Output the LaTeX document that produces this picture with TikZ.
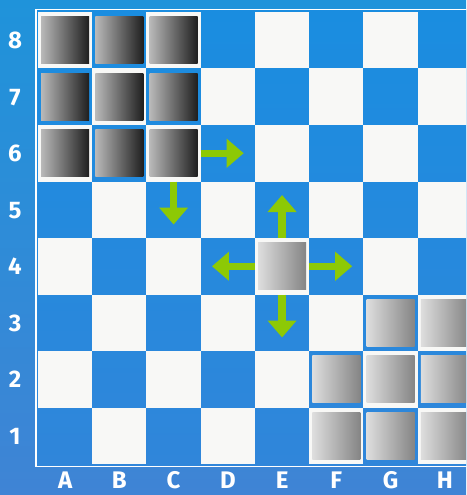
\documentclass[tikz,border=0pt]{standalone}
\usepackage{fontspec}
\setmainfont{Fira Sans}
\usetikzlibrary{arrows.meta,positioning,calc}
\definecolor{bgtop}{HTML}{1F93DA}
\definecolor{bgbot}{HTML}{3F84D5}
\definecolor{sqbluetop}{HTML}{1A8DE0}
\definecolor{sqbluebot}{HTML}{3086DA}
\definecolor{sqwhite}{HTML}{F8F8F6}
\definecolor{movegreen}{HTML}{8DC905}

\begin{document}
\begin{tikzpicture}[
  x=1pt, y=-1pt,
  lbl/.style={text=white, inner sep=0pt, anchor=base, font=\fontsize{24}{24}\selectfont\bfseries},
  piece/.style={draw=none, inner sep=0pt, minimum width=48pt, minimum height=47pt, outer xsep=3.12pt, outer ysep=4.75pt},
  dark/.style={piece, left color=gray!55!white, right color=black!88},
  light/.style={piece, left color=black!13, right color=black!48},
  move/.style={color=movegreen, line width=7.5pt, -{Triangle[length=17pt 0, width=28pt 0]}}
]
\useasboundingbox (0,0) rectangle (466,495);
\clip (0,0) rectangle (466,495);
\shade[top color=bgtop, bottom color=bgbot] (0,0) rectangle (466,495);
\draw[white, line width=1.5pt] (36,10) rectangle (480,466);
\shade[top color=sqbluetop, bottom color=sqbluebot] (37,11) rectangle (474,465);
\foreach \c [count=\i from 0] in {a,b,c,d,e,f,g,h}
  \foreach \r in {1,...,8}{
    \coordinate (\c\r) at ({65.12+54.24*\i},{492.25-56.5*\r});
    \pgfmathparse{int(mod(\i+\r,2))}
    \ifnum\pgfmathresult=0
      \fill[sqwhite] ({38+54.24*\i},{464-56.5*\r}) rectangle ++(54.24,56.5);
    \fi
  }
\foreach \s in {a8,b8,c8,a7,b7,c7,a6,b6,c6}
  \node[dark] (p\s) at (\s) {};
\foreach \s in {e4,f2,g3,g2,h3,h2,f1,g1,h1}
  \node[light] (p\s) at (\s) {};
\coordinate (c6r) at ([xshift=43pt]pc6.east);
\coordinate (c6d) at ([yshift=-43pt]pc6.south);
\coordinate (e4n) at ([yshift=43pt]pe4.north);
\coordinate (e4s) at ([yshift=-43pt]pe4.south);
\coordinate (e4w) at ([xshift=-43pt]pe4.west);
\coordinate (e4e) at ([xshift=43pt]pe4.east);
\draw[move] (pc6.east) -- (c6r);
\draw[move] (pc6.south) -- (c6d);
\draw[move] (pe4.north) -- (e4n);
\draw[move] (pe4.south) -- (e4s);
\draw[move] (pe4.west) -- (e4w);
\draw[move] (pe4.east) -- (e4e);
\foreach \r in {1,...,8}
  \node[lbl] (row\r) at (15,{500.5-56.5*\r}) {\r};
\foreach \c/\L [count=\i from 0] in {a/A,b/B,c/C,d/D,e/E,f/F,g/G,h/H}
  \node[lbl] (col\c) at ({65.12+54.24*\i},488.5) {\L};
\end{tikzpicture}
\end{document}
